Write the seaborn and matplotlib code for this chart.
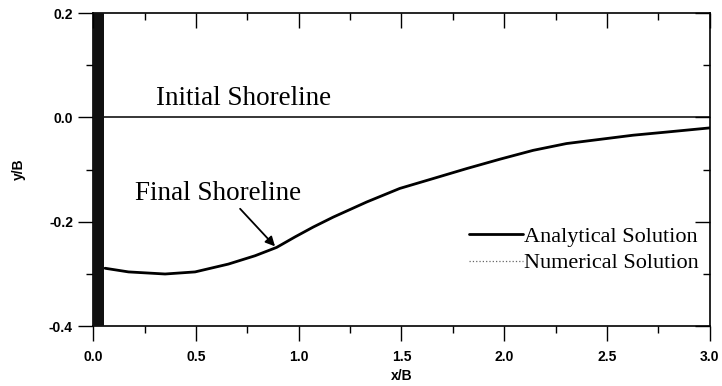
import numpy as np
import pandas as pd
import matplotlib
matplotlib.use('Agg')
import matplotlib.pyplot as plt
import seaborn as sns
from matplotlib.lines import Line2D

# groin / structure at the left boundary
groin_x = [0.0, 0.055]

# initial shoreline
initial_x = [0.055, 3.0]
initial_y = [0.0, 0.0]

# final shoreline
final_x = [0.058, 0.172, 0.35, 0.496, 0.658, 0.788, 0.893, 0.982, 1.071, 1.168,
           1.331, 1.492, 1.655, 1.817, 1.979, 2.141, 2.303, 2.465, 2.627, 2.789, 3.0]
analytical_y = [-0.289, -0.296, -0.300, -0.296, -0.281, -0.265, -0.249, -0.229,
                -0.210, -0.191, -0.162, -0.136, -0.117, -0.098, -0.080, -0.063,
                -0.050, -0.042, -0.034, -0.028, -0.020]
numerical_y = [-0.289, -0.296, -0.300, -0.296, -0.281, -0.265, -0.249, -0.229,
               -0.210, -0.191, -0.162, -0.136, -0.117, -0.098, -0.080, -0.063,
               -0.050, -0.042, -0.034, -0.028, -0.020]

xticks = [0.0, 0.5, 1.0, 1.5, 2.0, 2.5, 3.0]
xminor = [0.25, 0.75, 1.25, 1.75, 2.25, 2.75]
yticks = [-0.4, -0.2, 0.0, 0.2]
yminor = [-0.3, -0.1, 0.1]

sns.set_style('ticks')
plt.rcParams['font.family'] = ['Liberation Sans', 'DejaVu Sans']
plt.rcParams['text.color'] = 'black'
plt.rcParams['axes.labelcolor'] = 'black'
plt.rcParams['xtick.color'] = 'black'
plt.rcParams['ytick.color'] = 'black'
serif = ['Liberation Serif', 'DejaVu Serif']

df = pd.DataFrame({'x': final_x, 'analytical': analytical_y, 'numerical': numerical_y})

fig = plt.figure(figsize=(7.22, 3.86), dpi=100)
ax = fig.add_axes([0.129, 0.155, 0.854, 0.811])

ax.axvspan(groin_x[0], groin_x[1], color='#111111', zorder=3, lw=0)
sns.lineplot(x=initial_x, y=initial_y, ax=ax, color='black', lw=1.1)
sns.lineplot(data=df, x='x', y='numerical', ax=ax, color='#888888', lw=0.8, ls=':', zorder=1)
sns.lineplot(data=df, x='x', y='analytical', ax=ax, color='black', lw=2.0, zorder=2)

ax.set_xlim(0, 3.0)
ax.set_ylim(-0.4, 0.2)
ax.set_xticks(xticks)
ax.set_xticklabels([f'{v:.1f}' for v in xticks])
ax.set_xticks(xminor, minor=True)
ax.set_yticks(yticks)
ax.set_yticklabels([f'{v:.1f}' for v in yticks])
ax.set_yticks(yminor, minor=True)
ax.xaxis.set_ticks_position('bottom')
ax.yaxis.set_ticks_position('left')

for s in ax.spines.values():
    s.set_linewidth(1.2)
    s.set_color('black')

ax.tick_params(which='major', direction='out', length=10.5, width=1, color='black',
               labelsize=10, labelcolor='black')
ax.tick_params(which='minor', direction='out', length=5, width=1, color='black')
ax.tick_params(axis='x', which='major', pad=7)
ax.tick_params(axis='y', which='major', pad=4)
for lab in ax.get_xticklabels() + ax.get_yticklabels():
    lab.set_fontweight('bold')

# inward ticks on the top and right edges
axt = ax.twiny()
axt.set_xlim(ax.get_xlim())
axt.xaxis.set_ticks_position('top')
axt.set_xticks(xticks)
axt.set_xticks(xminor, minor=True)
axt.xaxis.set_tick_params(which='major', direction='in', length=11, width=1,
                          color='black', labeltop=False)
axt.xaxis.set_tick_params(which='minor', direction='in', length=5, width=1, color='black')
axr = ax.twinx()
axr.set_ylim(ax.get_ylim())
axr.yaxis.set_ticks_position('right')
axr.set_yticks(yticks)
axr.set_yticks(yminor, minor=True)
axr.yaxis.set_tick_params(which='major', direction='in', length=11, width=1,
                          color='black', labelright=False)
axr.yaxis.set_tick_params(which='minor', direction='in', length=5, width=1, color='black')
for a in (axt, axr):
    for s in a.spines.values():
        s.set_visible(False)

ax.set_xlabel('x/B', fontsize=10, fontweight='bold', labelpad=3, color='black')
ax.set_ylabel('y/B', fontsize=10, fontweight='bold', labelpad=17, color='black')

ax.text(0.733, 0.037, 'Initial Shoreline', family=serif, fontsize=19.5,
        ha='center', va='center', color='black')
ax.text(0.61, -0.145, 'Final Shoreline', family=serif, fontsize=19.5,
        ha='center', va='center', color='black')
ax.annotate('', xy=(0.885, -0.247), xytext=(0.715, -0.175),
            arrowprops=dict(arrowstyle='-|>', color='black', lw=1.3,
                            shrinkA=0, shrinkB=0, mutation_scale=14))

handles = [Line2D([], [], color='black', lw=2.0),
           Line2D([], [], color='#666666', lw=0.9, ls=':')]
leg = ax.legend(handles, ['Analytical Solution', 'Numerical Solution'],
                loc='center right', bbox_to_anchor=(0.982, 0.244), frameon=False,
                prop={'family': serif, 'size': 16}, handlelength=2.4,
                handletextpad=0.05, labelspacing=0.28, borderaxespad=0, borderpad=0)
for t in leg.get_texts():
    t.set_color('black')

fig.savefig('out.png', dpi=100)
